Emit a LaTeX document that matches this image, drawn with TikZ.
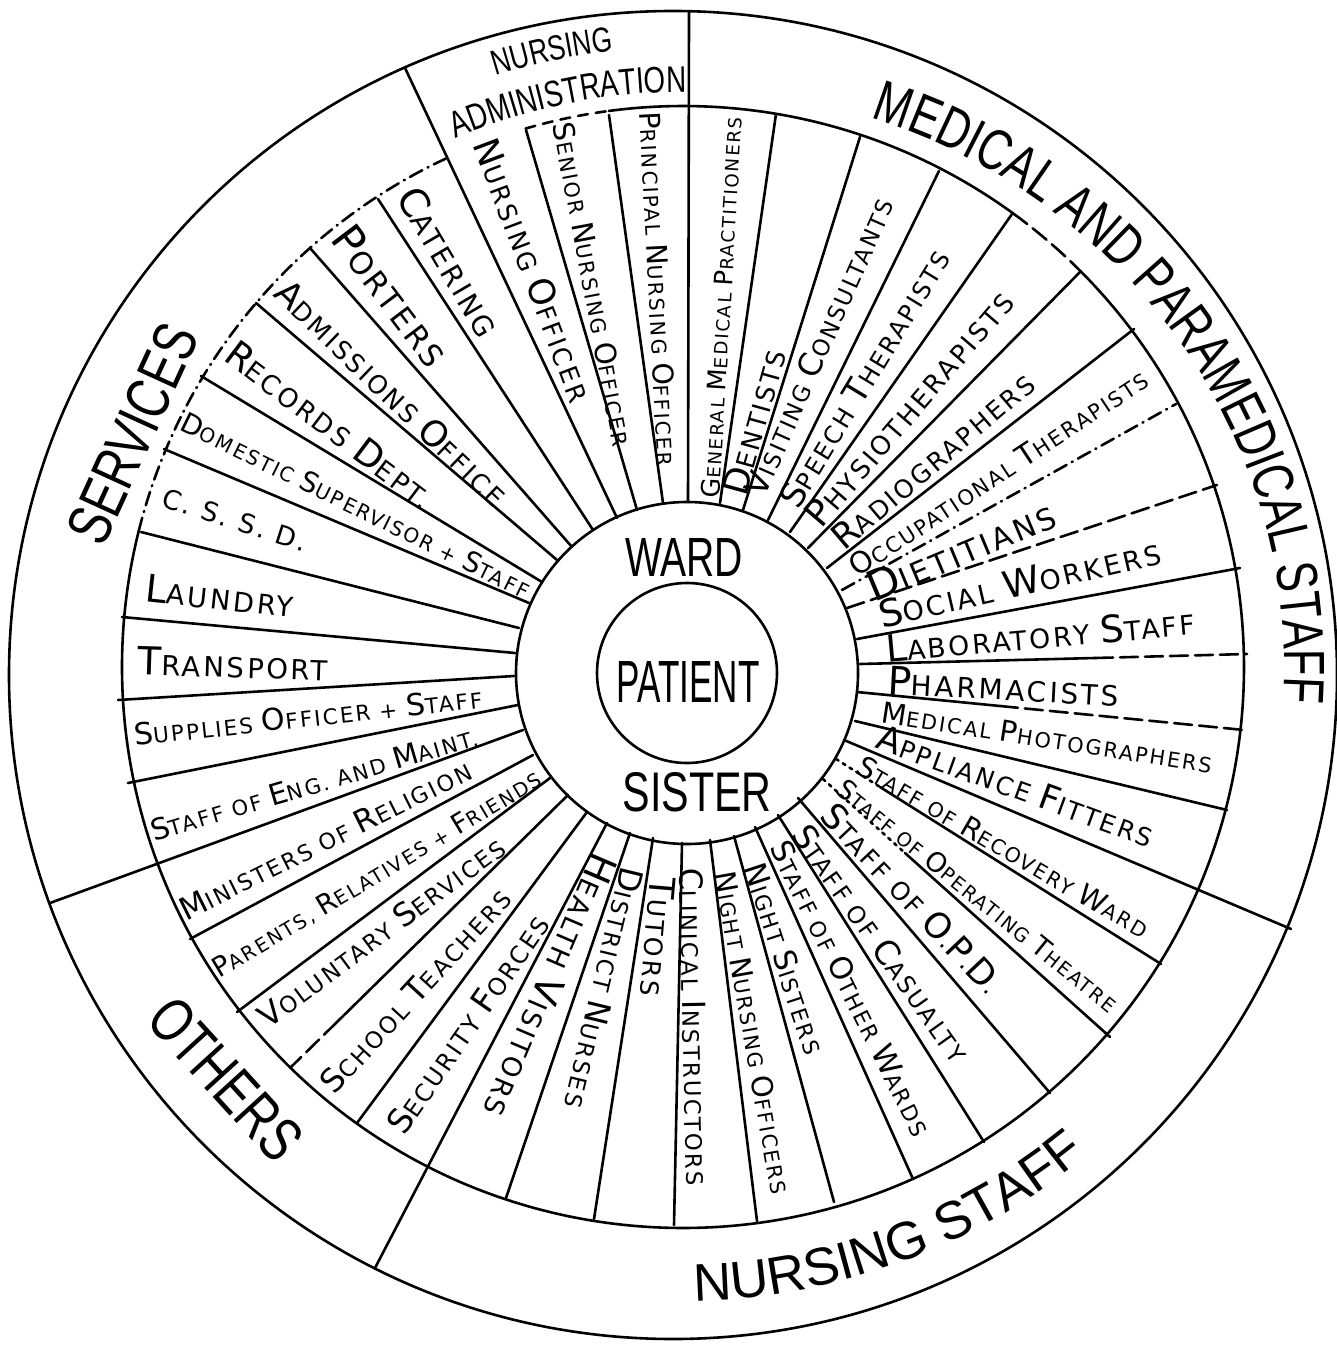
\documentclass[tikz,border=0pt]{standalone}
\usepackage{fontspec}
\usepackage{graphicx}
\usetikzlibrary{decorations.text}
\newfontfamily\labfont[LetterSpace=10]{DejaVu Sans}
\newfontfamily\catfont[FakeStretch=0.75]{Liberation Sans}
\newfontfamily\cenfont{Liberation Sans}
\newcommand\Kc[1]{{\fontsize{14}{14}\selectfont #1}}
\newcommand\lab[6]{%
  \pgfmathsetmacro\labang{atan2(-((#5)-(#3)),(#4)-(#2))}%
  \pgfmathsetmacro\lablen{veclen(((#4)-(#2))/100,((#5)-(#3))/100)*100}%
  \node[lbl,rotate=\labang] (#1) at ({((#2)+(#4))/2},{((#3)+(#5))/2})
     {\resizebox{\lablen pt}{!}{\labfont\fontsize{10}{10}\selectfont #6}};%
}
\newcommand\clab[6]{%
  \pgfmathsetmacro\labang{atan2(-((#5)-(#3)),(#4)-(#2))}%
  \pgfmathsetmacro\lablen{veclen(((#4)-(#2))/100,((#5)-(#3))/100)*100}%
  \node[lbl,rotate=\labang] (#1) at ({((#2)+(#4))/2},{((#3)+(#5))/2})
     {\resizebox{\lablen pt}{!}{\catfont\fontsize{10}{10}\selectfont #6}};%
}
\begin{document}
\begin{tikzpicture}[x=1pt,y=-1pt,
  ln/.style={line width=2.6pt,line cap=round},
  ldash/.style={dash pattern=on 18pt off 7pt},
  ddash/.style={dash pattern=on 14pt off 6pt on 1pt off 6pt},
  dotln/.style={dash pattern=on 3pt off 5pt},
  lbl/.style={inner sep=0pt,outer sep=0pt}]
\useasboundingbox (0,0) rectangle (1337,1348);
\fill[white] (0,0) rectangle (1337,1348);

% circles
\draw[ln] (673,675) circle[radius=664];
\draw[ln] (687,673) circle[radius=171];
\draw[ln] (687,673) circle[radius=90];
% middle ring
\draw[ln] (683,667) ++(-97.6:561) arc[start angle=-97.6,end angle=-54,radius=561];
\draw[ln,ldash] (683,667) ++(-54:561) arc[start angle=-54,end angle=-44.9,radius=561];
\draw[ln] (683,667) ++(-44.9:561) arc[start angle=-44.9,end angle=194,radius=561];
\draw[ln,ddash] (683,667) ++(194:561) arc[start angle=194,end angle=245,radius=561];
\draw[ln,dash pattern=on 10pt off 8pt] (683,667) ++(253.7:561) arc[start angle=253.7,end angle=262.4,radius=561];

% spokes
\draw[ln] (688,502) -- (689,12);
\draw[ln] (720,503) -- (776,114);
\draw[ln] (743,510) -- (860,137);
\draw[ln] (768,520) -- (939,171);
\draw[ln] (790,532) -- (1012,214);
\draw[ln] (808,548) -- (1081,271);
\draw[ln] (827,568) -- (1134,329);
\draw[ln,ddash] (842,590) -- (1176,404);
\draw[ln,ldash] (847,608) -- (1217,485);
\draw[ln] (857,639) -- (1240,568);
\draw[ln] (860,664) -- (1095,658); \draw[ln,ldash] (1095,658) -- (1247,654);
\draw[ln] (857,692) -- (1000,706); \draw[ln,ldash] (1000,706) -- (1244,730);
\draw[ln] (855,721) -- (1227,810);
\draw[ln] (844,740) -- (1291,929);
\draw[ln,dotln] (836,759) -- (880,787); \draw[ln] (880,787) -- (1161,964);
\draw[ln,dotln] (823,779) -- (905,853); \draw[ln] (905,853) -- (1110,1037);
\draw[ln] (798,798) -- (1050,1093);
\draw[ln] (778,815) -- (984,1142);
\draw[ln] (755,827) -- (913,1179);
\draw[ln] (734,836) -- (834,1202);
\draw[ln] (710,840) -- (757,1221);
\draw[ln] (682,843) -- (674,1225);
\draw[ln] (653,838) -- (594,1219);
\draw[ln] (630,833) -- (506,1198);
\draw[ln] (607,823) -- (375,1268);
\draw[ln] (587,812) -- (357,1123);
\draw[ln] (568,795) -- (337,1022); \draw[ln,ldash] (337,1022) -- (290,1068);
\draw[ln] (550,778) -- (237,1012);
\draw[ln] (533,755) -- (190,939);
\draw[ln] (523,730) -- (50,903);
\draw[ln] (518,705) -- (128,783);
\draw[ln] (514,676) -- (118,700);
\draw[ln] (515,653) -- (122,617);
\draw[ln] (519,628) -- (141,532);
\draw[ln] (529,603) -- (164,449);
\draw[ln] (542,582) -- (201,376);
\draw[ln] (557,560) -- (256,303);
\draw[ln] (572,547) -- (310,248);
\draw[ln] (593,530) -- (378,199);
\draw[ln] (617,518) -- (405,68);
\draw[ln] (637,510) -- (526,130);
\draw[ln] (663,503) -- (609,115);

% centre
\node[lbl] (ward) at (684,557) {\resizebox{118pt}{38pt}{\cenfont WARD}};
\node[lbl] (patient) at (688,682) {\resizebox{143pt}{41pt}{\cenfont PATIENT}};
\node[lbl] (sister) at (697,792) {\resizebox{149pt}{39pt}{\cenfont SISTER}};

% category labels
\path[decorate,decoration={text along path,text align=center,
  text={|\catfont\fontsize{35}{35}\selectfont|NURSING}}]
  (683,667) ++(-117:620) arc[start angle=-117,end angle=-87,radius=620];
\path[decorate,decoration={text along path,text align=center,
  text={|\catfont\fontsize{37}{37}\selectfont|ADMINISTRATION}}]
  (683,667) ++(-126:575) arc[start angle=-126,end angle=-77,radius=575];
\path[decorate,decoration={text along path,text align=center,
  text={|\catfont\fontsize{58}{58}\selectfont|MEDICAL AND PARAMEDICAL STAFF}}]
  (683,667) ++(-79:601 and 578) arc[start angle=-79,end angle=11,x radius=601,y radius=578];
\path[decorate,decoration={text along path,text align=center,
  text={|\cenfont\fontsize{53}{53}\selectfont|NURSING STAFF}}]
  (683,667) ++(99.7:634) arc[start angle=99.7,end angle=39.7,radius=634];
\clab{serv}{84}{540}{181}{328}{SERVICES}
\clab{oths}{160}{1007}{291}{1151}{OTHERS}

% sector labels
\lab{gmp}{710}{498}{733}{117}{\Kc{G}ENERAL \Kc{M}EDICAL \Kc{P}RACTITIONERS}
\lab{den}{734}{494}{774}{350}{\Kc{D}ENTISTS}
\lab{vis}{754}{494}{884}{199}{\Kc{V}ISITING \Kc{C}ONSULTANTS}
\lab{spe}{788}{504}{941}{252}{\Kc{S}PEECH \Kc{T}HERAPISTS}
\lab{phy}{812}{521}{1006}{295}{\Kc{P}HYSIOTHERAPISTS}
\lab{rad}{836}{542}{1029}{378}{\Kc{R}ADIOGRAPHERS}
\lab{occ}{852}{569}{1145}{376}{\Kc{O}CCUPATIONAL \Kc{T}HERAPISTS}
\lab{die}{869}{589}{1053}{512}{\Kc{D}IETITIANS}
\lab{soc}{879}{615}{1160}{550}{\Kc{S}OCIAL \Kc{W}ORKERS}
\lab{labst}{886}{649}{1195}{621}{\Kc{L}ABORATORY \Kc{S}TAFF}
\lab{pha}{888}{680}{1119}{692}{\Kc{P}HARMACISTS}
\lab{mph}{882}{712}{1212}{763}{\Kc{M}EDICAL \Kc{P}HOTOGRAPHERS}
\lab{app}{879}{736}{1153}{836}{\Kc{A}PPLIANCE \Kc{F}ITTERS}
\lab{rec}{860}{763}{1147}{930}{\Kc{S}TAFF OF \Kc{R}ECOVERY \Kc{W}ARD}
\lab{ope}{841}{785}{1115}{1006}{\Kc{S}TAFF OF \Kc{O}PERATING \Kc{T}HEATRE}
\lab{opd}{828}{809}{997}{988}{\Kc{S}TAFF OF \Kc{O}.\Kc{P}.\Kc{D}.}
\lab{cas}{800}{828}{963}{1058}{\Kc{S}TAFF OF \Kc{C}ASUALTY}
\lab{oth}{779}{843}{924}{1134}{\Kc{S}TAFF OF \Kc{O}THER \Kc{W}ARDS}
\lab{nsi}{754}{864}{816}{1053}{\Kc{N}IGHT \Kc{S}ISTERS}
\lab{nno}{725}{872}{782}{1194}{\Kc{N}IGHT \Kc{N}URSING \Kc{O}FFICERS}
\lab{cli}{691}{868}{698}{1186}{\Kc{C}LINICAL \Kc{I}NSTRUCTORS}
\lab{tut}{663}{878}{653}{996}{\Kc{T}UTORS}
\lab{dis}{633}{868}{575}{1108}{\Kc{D}ISTRICT \Kc{N}URSES}
\lab{hea}{606}{856}{495}{1116}{\Kc{H}EALTH \Kc{V}ISITORS}
\lab{sec}{394}{1130}{541}{918}{\Kc{S}ECURITY \Kc{F}ORCES}
\lab{sch}{326}{1088}{505}{893}{\Kc{S}CHOOL \Kc{T}EACHERS}
\lab{vol}{262}{1020}{501}{843}{\Kc{V}OLUNTARY \Kc{S}ERVICES}
\lab{par}{215}{971}{539}{777}{\Kc{P}ARENTS, \Kc{R}ELATIVES + \Kc{F}RIENDS}
\lab{min}{181}{911}{469}{768}{\Kc{M}INISTERS OF \Kc{R}ELIGION}
\lab{eng}{151}{831}{477}{735}{\Kc{S}TAFF OF \Kc{E}NG. AND \Kc{M}AINT.}
\lab{sup}{134}{735}{482}{697}{\Kc{S}UPPLIES \Kc{O}FFICER + \Kc{S}TAFF}
\lab{tra}{138}{661}{328}{667}{\Kc{T}RANSPORT}
\lab{lau}{146}{588}{294}{604}{\Kc{L}AUNDRY}
\lab{css}{163}{497}{307}{543}{\Kc{C. S. S. D.}}
\lab{dom}{183}{420}{529}{590}{\Kc{D}OMESTIC \Kc{S}UPERVISOR + \Kc{S}TAFF}
\lab{rcd}{230}{349}{430}{500}{\Kc{R}ECORDS \Kc{D}EPT.}
\lab{adm}{281}{286}{503}{499}{\Kc{A}DMISSIONS \Kc{O}FFICE}
\lab{por}{342}{230}{441}{361}{\Kc{P}ORTERS}
\lab{cat}{408}{190}{492}{333}{\Kc{C}ATERING}
\lab{nof}{485}{140}{583}{400}{\Kc{N}URSING \Kc{O}FFICER}
\lab{sno}{563}{123}{624}{446}{\Kc{S}ENIOR \Kc{N}URSING \Kc{O}FFICER}
\lab{pno}{650}{112}{668}{466}{\Kc{P}RINCIPAL \Kc{N}URSING \Kc{O}FFICER}
\end{tikzpicture}
\end{document}
